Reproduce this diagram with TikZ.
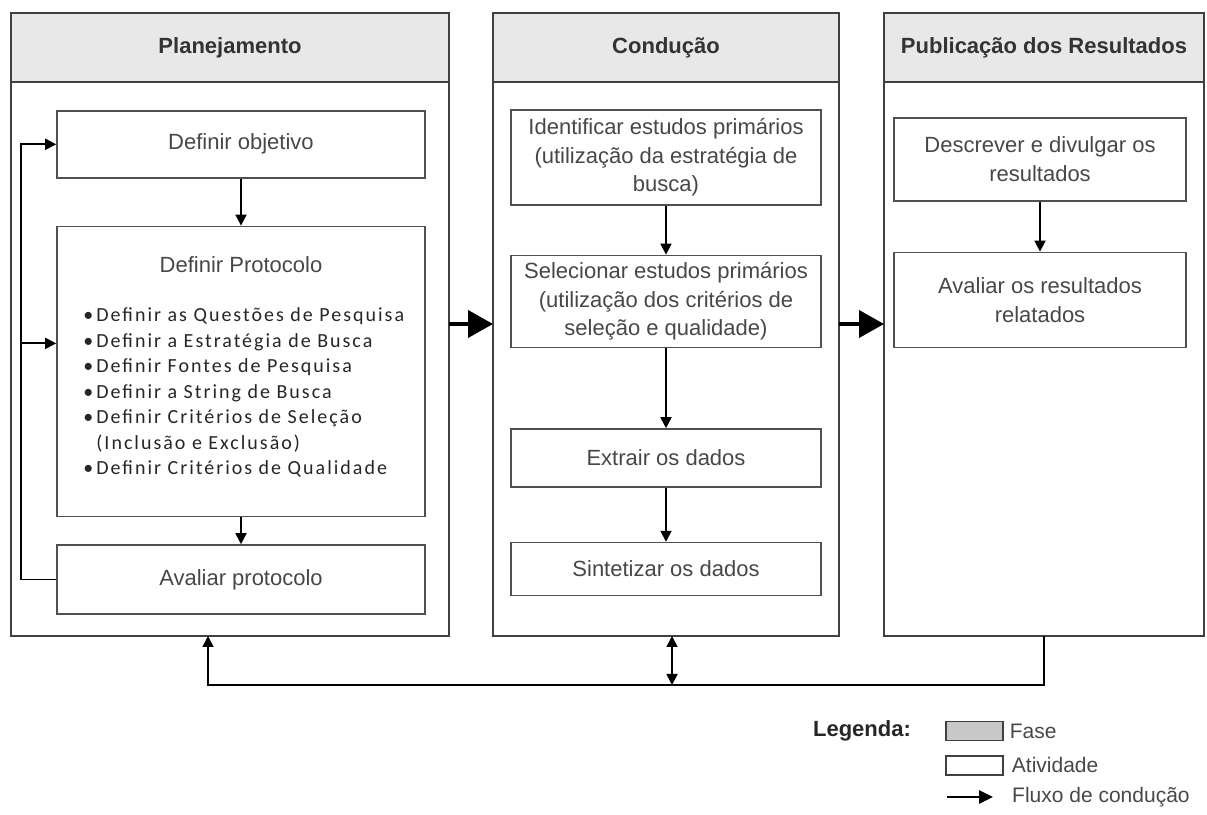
\documentclass[tikz,border=0pt]{standalone}
\usepackage{fontspec}
\setmainfont{Liberation Sans}
\newfontfamily\listfont[LetterSpace=10]{Carlito}
\usetikzlibrary{positioning, arrows.meta}

\definecolor{phasegray}{HTML}{E8E8E8}
\definecolor{legendgray}{HTML}{C8C8C8}
\definecolor{boxline}{HTML}{505050}

\newcommand{\bitem}{\makebox[13pt][l]{\textbullet}}

\begin{document}
\begin{tikzpicture} [x=1pt, y=1pt,
            phase/.style = {draw=black!75, line width=1.4pt, fill=phasegray,
                outer sep=0pt, inner sep=0pt, minimum width=#1,
                minimum height=69pt, text=black!80,
                font=\fontsize{22}{26}\selectfont\bfseries},
            lane/.style = {draw=black!75, line width=1.4pt, outer sep=0pt,
                minimum width=#1, minimum height=554pt},
            activity/.style = {draw=boxline, line width=1.6pt, inner sep=0pt,
                align=center, text=black!72,
                font=\fontsize{22}{28.5}\selectfont},
            legbox/.style = {draw=black!75, line width=1.4pt, inner sep=0pt,
                minimum width=57pt, minimum height=19pt},
            legtext/.style = {inner sep=0pt, text=black!72,
                font=\fontsize{21}{24}\selectfont},
            flow/.style = {-{Triangle[length=11pt, width=11pt]}, line width=1.8pt},
            bigflow/.style = {-{Triangle[length=25pt, width=27pt]}, line width=4pt}]

            \useasboundingbox (0,0) rectangle (1207,814);

            % Phase headers
            \node (hdrA) [phase=438, anchor=north west] at (11,801) {Planejamento};
            \node (hdrB) [phase=346, right=44pt of hdrA] {Condução};
            \node (hdrC) [phase=320, right=45pt of hdrB] {Publicação dos Resultados};

            % Phase lanes
            \node (bodyA) [lane=438, below=0pt of hdrA] {};
            \node (bodyB) [lane=346, below=0pt of hdrB] {};
            \node (bodyC) [lane=320, below=0pt of hdrC] {};

            % Planejamento
            \node (obj) [activity,
                minimum width=368pt, minimum height=67pt,
                below=28pt of bodyA.north, xshift=11pt] {Definir objetivo};

            \node (prot) [activity,
                minimum width=368pt, minimum height=290pt,
                below=47pt of obj] {};

            \node (protTitle) [inner sep=0pt, text=black!72,
                font=\fontsize{22}{26}\selectfont,
                below=31pt of prot.north] {Definir Protocolo};

            \node (protList) [inner sep=0pt, align=left, text=black!85,
                font=\listfont\fontsize{20}{25.5}\selectfont,
                below right=82pt and 27pt of prot.north west]
                {\bitem Definir as Questões de Pesquisa\\
                 \bitem Definir a Estratégia de Busca\\
                 \bitem Definir Fontes de Pesquisa\\
                 \bitem Definir a String de Busca\\
                 \bitem Definir Critérios de Seleção\\
                 \hspace*{13pt}(Inclusão e Exclusão)\\
                 \bitem Definir Critérios de Qualidade};

            \node (avP) [activity,
                minimum width=368pt, minimum height=69pt,
                below=27pt of prot] {Avaliar protocolo};

            % Condução
            \node (ident) [activity,
                minimum width=310pt, minimum height=95pt,
                below=27pt of bodyB.north]
                {Identificar estudos primários\\(utilização da estratégia de\\busca)};

            \node (sel) [activity,
                minimum width=310pt, minimum height=92pt,
                below=49pt of ident]
                {Selecionar estudos primários\\(utilização dos critérios de\\seleção e qualidade)};

            \node (extr) [activity,
                minimum width=310pt, minimum height=58pt,
                below=80pt of sel] {Extrair os dados};

            \node (sint) [activity,
                minimum width=310pt, minimum height=53pt,
                below=54pt of extr] {Sintetizar os dados};

            % Publicação dos Resultados
            \node (desc) [activity,
                minimum width=292pt, minimum height=83pt,
                below=35pt of bodyC.north, xshift=-4pt]
                {Descrever e divulgar os\\resultados};

            \node (avR) [activity,
                minimum width=292pt, minimum height=95pt,
                below=50pt of desc] {Avaliar os resultados\\relatados};

            % Arrows inside the phases
            \path [flow]
                (obj)   edge (prot)
                (prot)  edge (avP)
                (ident) edge (sel)
                (sel)   edge (extr)
                (extr)  edge (sint)
                (desc)  edge (avR);

            % Feedback of the protocol
            \coordinate (protIn) at ([yshift=28pt]prot.west);
            \draw [flow] (avP.west) -- ++(-35,0) coordinate (loopTurn) |- (obj.west);
            \draw [flow] (loopTurn |- protIn) -- (protIn);

            % Flow between phases
            \coordinate (flowLevel) at (0,490);
            \draw [bigflow] (bodyA.east |- flowLevel) -- (bodyB.west |- flowLevel);
            \draw [bigflow] (bodyB.east |- flowLevel) -- (bodyC.west |- flowLevel);

            % Return path
            \draw [flow] (bodyC.south) -- ++(0,-49) -| ([xshift=-22pt]bodyA.south);
            \draw [{Triangle[length=11pt, width=11pt]}-{Triangle[length=11pt, width=11pt]},
                line width=1.8pt] ([xshift=6pt]bodyB.south) -- ++(0,-49);

            % Legend
            \node (legTitle) [inner sep=0pt, text=black!85,
                font=\fontsize{22}{24}\selectfont\bfseries] at (862,83) {Legenda:};
            \node (legPhase) [legbox, fill=legendgray] at (974.5,83) {};
            \node (legAct) [legbox, below=14pt of legPhase] {};
            \coordinate (legFrom) at (947,17);
            \coordinate (legTo) at (993,17);
            \draw [-{Triangle[length=14pt, width=13pt]}, line width=2.6pt] (legFrom) -- (legTo);

            \node (legPhaseTxt) [legtext, right=6pt of legPhase] {Fase};
            \node (legActTxt) [legtext, right=8pt of legAct] {Atividade};
            \node (legFlowTxt) [legtext, right=19pt of legTo] {Fluxo de condução};
        \end{tikzpicture}
\end{document}
